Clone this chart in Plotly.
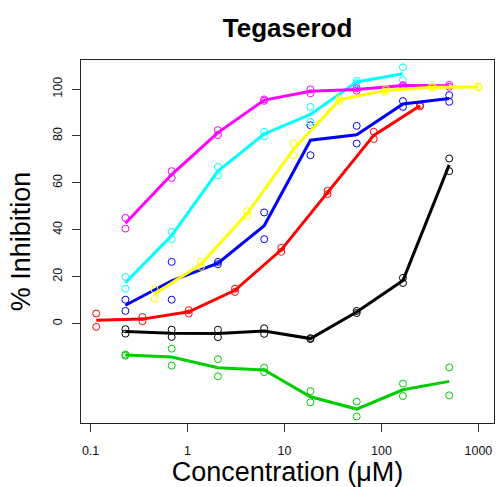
import plotly.graph_objects as go

# Concentrations (uM)
conc_a = [0.2286, 0.6859, 2.058, 6.173, 18.52, 55.56, 166.7, 500]
conc_cyan = [0.2286, 0.6859, 2.058, 6.173, 18.52, 55.56, 166.7]
conc_yellow = [0.4572, 1.372, 4.115, 12.35, 37.04, 111.1, 333.3, 1000]
conc_red = [0.1143, 0.3429, 1.029, 3.086, 9.259, 27.78, 83.33, 250]

# Replicate % inhibition values
black_r1 = [-2.4, -2.6, -2.6, -2.0, -6.2, 5.4, 19.5, 70.4]
black_r2 = [-4.3, -5.7, -5.8, -4.4, -6.6, 4.5, 17.3, 65.0]
green_r1 = [-13.2, -10.7, -15.2, -18.8, -28.8, -33.3, -25.6, -18.7]
green_r2 = [-13.7, -17.9, -22.5, -20.7, -33.6, -39.6, -30.9, -30.6]
red_r1 = [4.3, 2.8, 5.7, 14.9, 32.3, 56.6, 81.8, 93.2]
red_r2 = [-1.4, 1.0, 4.3, 13.5, 30.6, 55.2, 78.7, 92.6]
blue_r1 = [10.2, 26.3, 26.3, 47.4, 84.6, 84.3, 94.9, 97.4]
blue_r2 = [5.4, 10.2, 25.3, 36.0, 71.8, 76.8, 92.4, 94.6]
cyan_r1 = [19.9, 39.1, 66.8, 81.8, 92.4, 103.5, 109.3]
cyan_r2 = [14.9, 36.0, 63.3, 79.9, 86.0, 102.5, 103.8]
magenta_r1 = [45.1, 65.0, 82.5, 95.6, 99.9, 100.3, 101.7, 101.8]
magenta_r2 = [40.5, 62.1, 80.4, 95.0, 98.2, 99.3, 101.3, 101.0]
yellow_r1 = [14.6, 26.3, 47.9, 76.8, 96.0, 99.9, 101.0, 101.0]
yellow_r2 = [10.7, 24.2, 45.9, 71.8, 95.0, 98.9, 100.6, 100.8]

x_ticks = [0.1, 1, 10, 100, 1000]
x_ticktext = ["0.1", "1", "10", "100", "1000"]
y_ticks = [0, 20, 40, 60, 80, 100]

series = [
    ("black", "#000000", conc_a, black_r1, black_r2),
    ("green", "#00CD00", conc_a, green_r1, green_r2),
    ("red", "#FF0000", conc_red, red_r1, red_r2),
    ("blue", "#0000FF", conc_a, blue_r1, blue_r2),
    ("cyan", "#00FFFF", conc_cyan, cyan_r1, cyan_r2),
    ("magenta", "#FF00FF", conc_a, magenta_r1, magenta_r2),
    ("yellow", "#FFFF00", conc_yellow, yellow_r1, yellow_r2),
]

fig = go.Figure()
for name, col, xs, r1, r2 in series:
    means = [(a + b) / 2 for a, b in zip(r1, r2)]
    fig.add_trace(go.Scatter(x=xs, y=means, mode="lines",
                             line=dict(color=col, width=3), showlegend=False))
    fig.add_trace(go.Scatter(x=xs + xs, y=r1 + r2, mode="markers",
                             marker=dict(symbol="circle-open", size=7,
                                         color=col, line=dict(width=1, color=col)),
                             showlegend=False))

font = "Liberation Sans, Arial, sans-serif"
fig.update_layout(
    width=498, height=487,
    margin=dict(l=80.7, r=3.7, t=60, b=64.3),
    paper_bgcolor="white", plot_bgcolor="white",
    font=dict(family=font, color="black"),
    title=dict(text="<b>Tegaserod</b>", x=0.5775, xanchor="center",
               y=1 - 28 / 487, yanchor="middle",
               font=dict(size=26, family=font, color="black")),
    xaxis=dict(type="log", range=[-1.099, 3.161],
               tickvals=x_ticks, ticktext=x_ticktext,
               ticks="outside", ticklen=8, tickwidth=1, tickcolor="#333",
               showline=True, linecolor="#222", linewidth=1, mirror=True,
               showgrid=False, zeroline=False, ticklabelstandoff=8,
               tickfont=dict(size=12.5, color="#111"),
               title=dict(text="Concentration (μM)", font=dict(size=27), standoff=5)),
    yaxis=dict(range=[-42.4, 112.4], tickvals=y_ticks,
               ticks="outside", ticklen=8, tickwidth=1, tickcolor="#333",
               showline=True, linecolor="#222", linewidth=1, mirror=True,
               showgrid=False, zeroline=False, tickangle=-90, ticklabelstandoff=5,
               tickfont=dict(size=12.5, color="#111"),
               title=dict(text="% Inhibition", font=dict(size=27), standoff=12)),
)

fig.write_html("out.html")
